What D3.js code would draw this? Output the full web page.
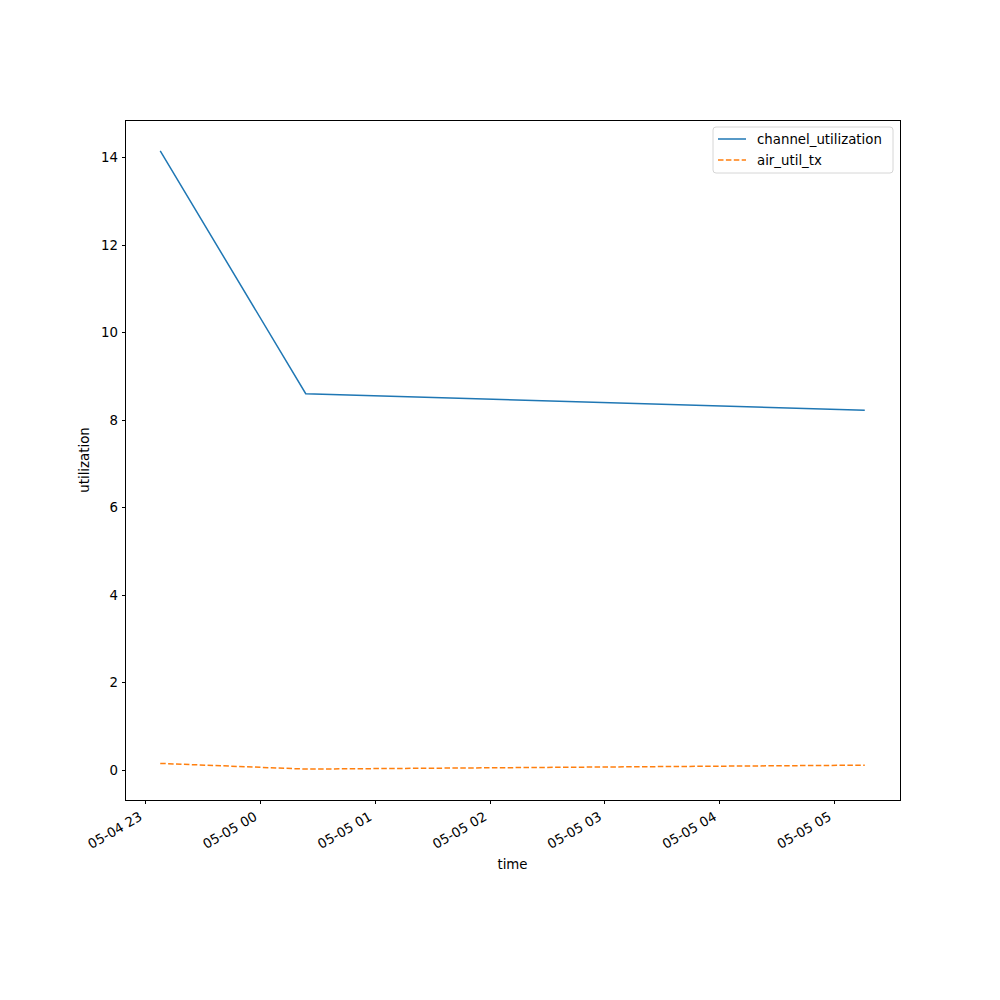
<!DOCTYPE html>
<html><head><meta charset="utf-8">
<script src="https://cdn.jsdelivr.net/npm/d3@7"></script>
<style>body{margin:0;background:#fff}svg, svg text{font-family:"DejaVu Sans",sans-serif}</style>
</head><body>
<svg id="c" width="1000" height="1000"></svg>
<script>
const times = ["2024-05-04T23:08:00", "2024-05-05T00:24:00", "2024-05-05T05:16:00"];
const channelUtilization = [14.15, 8.6, 8.22];
const airUtilTx = [0.15, 0.02, 0.11];
const xTickLabels = ["05-04 23","05-05 00","05-05 01","05-05 02","05-05 03","05-05 04","05-05 05"];
const yTicks = [0, 2, 4, 6, 8, 10, 12, 14];

const parse = d3.timeParse("%Y-%m-%dT%H:%M:%S");
const tDates = times.map(parse);
const L = 125, R = 900, T = 120, B = 800;
const FONT = "DejaVu Sans, sans-serif";
const svg = d3.select("#c");

const [t0, t1] = d3.extent(tDates);
const pad = (t1 - t0) * 0.05;
const x = d3.scaleTime().domain([new Date(+t0 - pad), new Date(+t1 + pad)]).range([L, R]);
const all = channelUtilization.concat(airUtilTx);
const [y0, y1] = d3.extent(all);
const yp = (y1 - y0) * 0.05;
const y = d3.scaleLinear().domain([y0 - yp, y1 + yp]).range([B, T]);

const tickDates = xTickLabels.map(s => {
  const [md, h] = s.split(" ");
  return parse("2024-" + md + "T" + h + ":00:00");
});

const gx = svg.append("g").attr("transform", `translate(0,${B})`)
  .call(d3.axisBottom(x).tickValues(tickDates).tickSize(3.5).tickPadding(3.5)
    .tickFormat((d, i) => xTickLabels[i]))
  .attr("font-family", FONT).attr("font-size", 13.33);
gx.select(".domain").remove();
gx.selectAll("line").attr("stroke", "#000").attr("stroke-width", 1).attr("shape-rendering", "crispEdges");
gx.selectAll("text").attr("fill", "#000")
  .attr("text-anchor", "end").attr("dy", null)
  .attr("transform", "translate(-7,11) rotate(-30)").attr("y", 0).attr("x", 0)
  .attr("dominant-baseline", "hanging");

const gy = svg.append("g").attr("transform", `translate(${L},0)`)
  .call(d3.axisLeft(y).tickValues(yTicks).tickSize(3.5).tickPadding(3.5))
  .attr("font-family", FONT).attr("font-size", 13.33);
gy.select(".domain").remove();
gy.selectAll("line").attr("stroke", "#000").attr("stroke-width", 1).attr("shape-rendering", "crispEdges");
gy.selectAll("text").attr("fill", "#000");

const line = d3.line().x((d, i) => x(tDates[i])).y(d => y(d));
svg.append("path").datum(channelUtilization).attr("d", line)
  .attr("fill", "none").attr("stroke", "#1f77b4").attr("stroke-width", 1.5);
svg.append("path").datum(airUtilTx).attr("d", line)
  .attr("fill", "none").attr("stroke", "#ff7f0e").attr("stroke-width", 1.5)
  .attr("stroke-dasharray", "5.5,2.4");

svg.append("rect").attr("x", L).attr("y", T).attr("width", R - L).attr("height", B - T)
  .attr("fill", "none").attr("stroke", "#000").attr("stroke-width", 1).attr("shape-rendering", "crispEdges");

svg.append("text").attr("x", (L + R) / 2).attr("y", 869).attr("text-anchor", "middle")
  .attr("font-size", "13.33px").text("time");
svg.append("text").attr("transform", `translate(89,${(T + B) / 2}) rotate(-90)`)
  .attr("text-anchor", "middle").attr("font-size", "13.33px").text("utilization");

// legend
const lg = svg.append("g");
lg.append("rect").attr("x", 713).attr("y", 127).attr("width", 180).attr("height", 46)
  .attr("rx", 3).attr("fill", "#fff").attr("fill-opacity", 0.8).attr("stroke", "#ccc").attr("stroke-width", 0.8);
const series = [{n: "channel_utilization", c: "#1f77b4", d: null}, {n: "air_util_tx", c: "#ff7f0e", d: "5.5,2.4"}];
series.forEach((s, i) => {
  const yy = 139 + i * 21;
  lg.append("line").attr("x1", 718).attr("x2", 746).attr("y1", yy).attr("y2", yy)
    .attr("stroke", s.c).attr("stroke-width", 1.5).attr("stroke-dasharray", s.d);
  lg.append("text").attr("x", 757).attr("y", yy).attr("dy", "0.35em")
    .attr("font-size", "13.33px").text(s.n);
});
</script>
</body></html>
